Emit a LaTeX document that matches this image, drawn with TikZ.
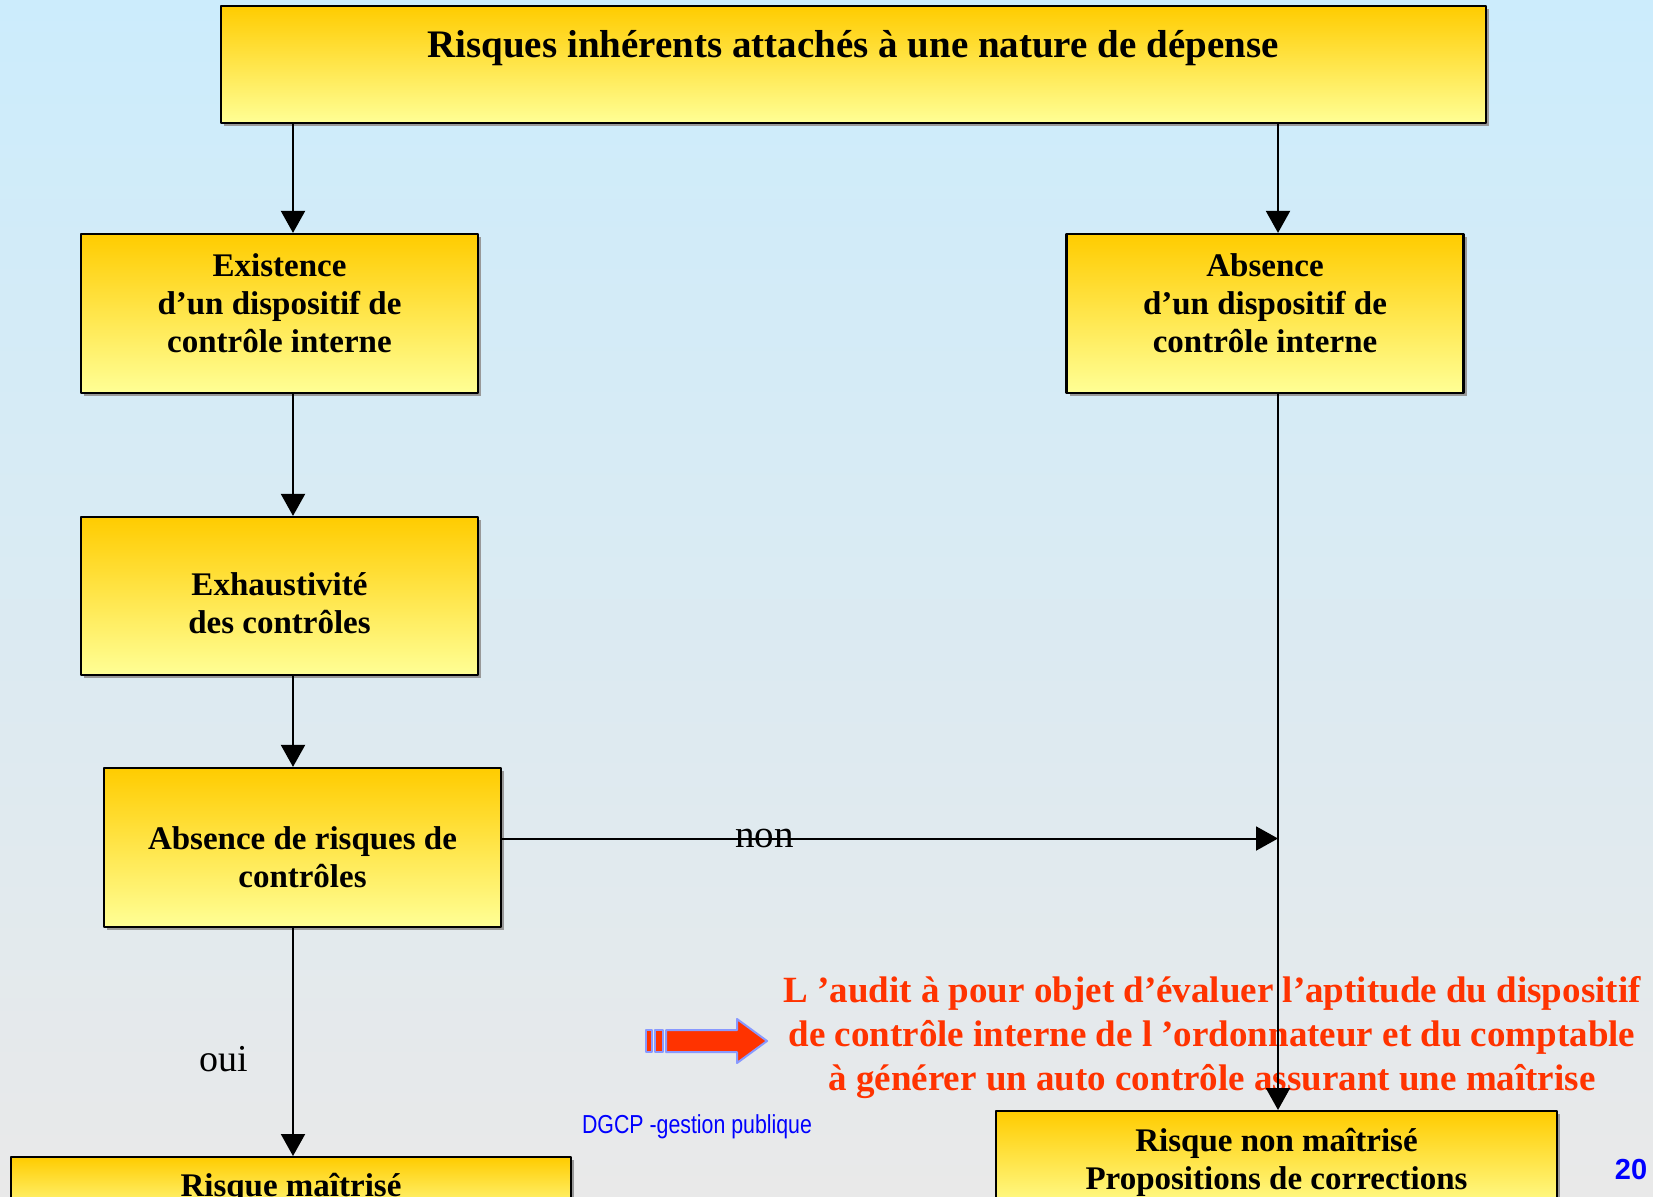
\documentclass[tikz,border=0pt]{standalone}
\usepackage{fontspec}
\setmainfont{Liberation Serif}
\newfontfamily\dgcpfont[FakeStretch=0.82]{Liberation Sans}
\newfontfamily\pagefont{Liberation Sans}
\usetikzlibrary{positioning,arrows.meta,shadows}
\definecolor{boxtop}{RGB}{255,204,0}
\definecolor{boxbot}{RGB}{255,255,150}
\definecolor{bgtop}{RGB}{204,236,252}
\definecolor{bgbot}{RGB}{233,233,233}
\definecolor{auditred}{RGB}{255,51,0}
\definecolor{iconedge}{RGB}{136,153,255}
\begin{document}
\begin{tikzpicture}[x=1pt, y=-1pt, >={Triangle[length=22pt,width=24pt]}, line join=round,
	box/.style={draw, line width=2.2pt, top color=boxtop, bottom color=boxbot, align=center, inner sep=0pt,
		font=\fontsize{33}{38}\selectfont\bfseries,
		drop shadow={shadow xshift=3pt, shadow yshift=-3pt, fill=black!40, opacity=1}},
	boxtext/.style={align=center, inner sep=0pt, font=\fontsize{33}{38}\selectfont\bfseries},
	link/.style={->, line width=2pt}]
	\useasboundingbox (0,0) rectangle (1653,1196);
	\clip (0,0) rectangle (1653,1196);
	\shade [top color=bgtop, bottom color=bgbot] (0,0) rectangle (1653,1196);
	\coordinate (colL) at (293,0);
	\coordinate (colR) at (1278,0);
	\node [box, minimum width=1265, minimum height=117] (title) at (853.5,64.5) {};
	\node [font=\fontsize{39}{44}\selectfont\bfseries] (titletext) at (853,48) {Risques inhérents attachés à une nature de dépense};
	\node [box, minimum width=397, minimum height=159] (exist) at (279.5,313.5) {};
	\node [boxtext] (existtext) at ([yshift=10pt]exist.center) {Existence\\ d’un dispositif de\\ contrôle interne};
	\node [box, minimum width=397, minimum height=158] (exh) at (279.5,596) {};
	\node [boxtext] (exhtext) at ([yshift=-7.5pt]exh.center) {Exhaustivité\\ des contrôles};
	\node [box, minimum width=397, minimum height=159] (abrisk) at (302.5,847.5) {};
	\node [boxtext] (abrisktext) at ([yshift=-9.5pt]abrisk.center) {Absence de risques de\\ contrôles};
	\node [box, minimum width=397, minimum height=159] (absd) at (1265,313.5) {};
	\node [boxtext] (absdtext) at ([yshift=10pt]absd.center) {Absence\\ d’un dispositif de\\ contrôle interne};
	\node [box, minimum width=560, minimum height=62, anchor=north] (ok) at (291,1156) {Risque maîtrisé};
	\node [box, minimum width=561, minimum height=102, anchor=north] (nok) at (1276.5,1110) {Risque non maîtrisé\\ Propositions de corrections};
	\node [text=auditred, align=center, font=\fontsize{37}{44}\selectfont\bfseries] (audit) at (1212,1038)
		{L ’audit à pour objet d’évaluer l’aptitude du dispositif\\ de contrôle interne de l ’ordonnateur et du comptable\\ à générer un auto contrôle assurant une maîtrise};
	\begin{scope}[draw=iconedge, line width=2pt, fill=auditred]
		\filldraw (646,1030) rectangle (652,1052);
		\filldraw (655,1030) rectangle (663,1052);
		\filldraw (666,1030) -- (737,1030) -- (737,1019) -- (767,1041) -- (737,1063) -- (737,1052) -- (666,1052) -- cycle;
	\end{scope}
	\draw [link] (title.south -| colL) -- (exist.north -| colL);
	\draw [link] (exist.south -| colL) -- (exh.north -| colL);
	\draw [link] (exh.south -| colL) -- (abrisk.north -| colL);
	\draw [link] (abrisk.south -| colL) -- node [pos=0.576, left=44pt, inner sep=0pt, font=\fontsize{38}{40}\selectfont] (oui) {oui} (ok.north -| colL);
	\draw [link] (title.south -| colR) -- (absd.north -| colR);
	\draw [link] (absd.south -| colR) -- (nok.north -| colR);
	\draw [link] ([yshift=9pt]abrisk.east) -- node [pos=0.338, inner sep=0pt, font=\fontsize{39}{40}\selectfont] (non) {non} ([yshift=9pt]abrisk.east -| colR);
	\node [text=blue, font=\dgcpfont\fontsize{26}{30}\selectfont] (dgcp) at (697,1127) {DGCP -gestion publique};
	\node [text=blue, font=\pagefont\fontsize{29}{32}\selectfont\bfseries] (pagenum) at (1631,1170) {20};
\end{tikzpicture}
\end{document}
